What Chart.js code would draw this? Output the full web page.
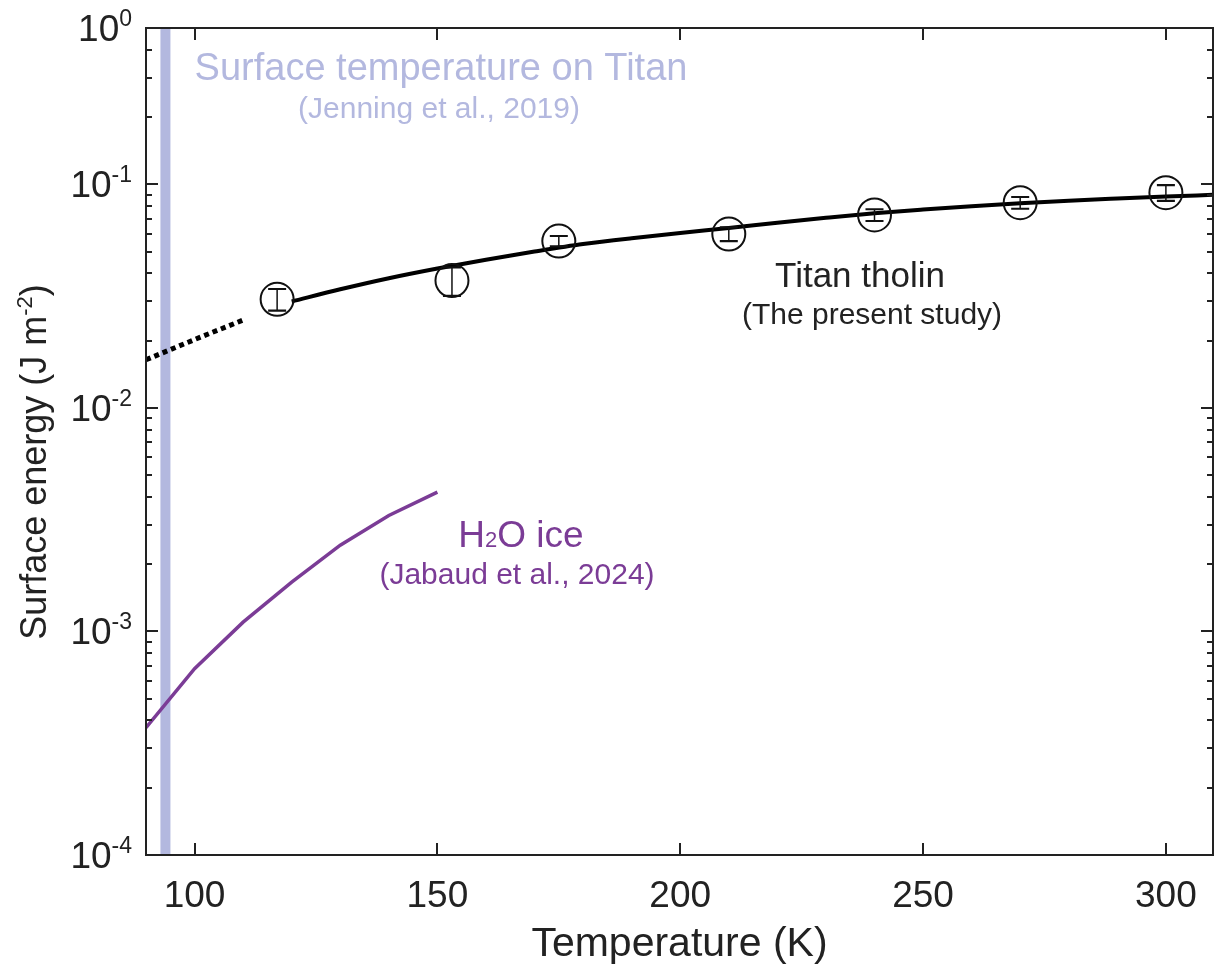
<!DOCTYPE html>
<html>
<head>
<meta charset="utf-8">
<script src="https://cdn.jsdelivr.net/npm/chart.js@4.4.0/dist/chart.umd.min.js"></script>
<style>
  html, body { margin: 0; padding: 0; background: #fff; overflow: hidden; }
  #surfaceChart { display: block; }
</style>
</head>
<body>
<canvas id="surfaceChart" width="1215" height="970"></canvas>
<script>
// tholin measurements: temperature (K), surface energy (J m-2), error
const tholinT = [117, 153, 175, 210, 240, 270, 300];
const tholinE = [0.0306, 0.0371, 0.0557, 0.0599, 0.0729, 0.0827, 0.0917];
const tholinErr = [0.0034, 0.0054, 0.0030, 0.0042, 0.0044, 0.0050, 0.0075];

// fitted curve over the measured range
const fitT = [120, 130, 140, 150, 160, 170, 180, 190, 200, 210, 220, 230, 240, 250, 260, 270, 280, 290, 300, 310];
const fitE = [0.0299, 0.0339, 0.0380, 0.0420, 0.0460, 0.0500, 0.0540, 0.0574, 0.0606, 0.0637, 0.0673, 0.0708, 0.0742, 0.0771, 0.0798, 0.0822, 0.0844, 0.0863, 0.0881, 0.0898];

// extrapolation of the fit down to Titan temperatures
const extrapT = [90, 100, 110];
const extrapE = [0.0164, 0.0202, 0.0247];

// H2O ice (Jabaud et al., 2024)
const iceT = [90, 100, 110, 120, 130, 140, 150];
const iceE = [0.000371, 0.000681, 0.00110, 0.00166, 0.00243, 0.00330, 0.00420];

// Titan surface temperature
const titanSurfaceT = 94;

// axis ticks
const xTicks = [100, 150, 200, 250, 300];
const yTicks = [1e-4, 1e-3, 1e-2, 1e-1, 0.5];
const yTickExp = ["-4", "-3", "-2", "-1", "0"];

const FONT = '"Liberation Sans", Arial, Helvetica, sans-serif';
const INK = "#222";
const BAND = "#b3b8df";
const PURPLE = "#7b3c96";

const toXY = (xs, ys) => xs.map((v, i) => ({ x: v, y: ys[i] }));

// text with a raised or lowered small part, e.g. 10^-1 or H2O
function drawRich(ctx, parts, x, y, align) {
  let total = 0;
  parts.forEach((p) => {
    ctx.font = p.size + "px " + FONT;
    p.w = ctx.measureText(p.text).width;
    total += p.w;
  });
  let cx = align === "center" ? x - total / 2 : align === "right" ? x - total : x;
  parts.forEach((p) => {
    ctx.font = p.size + "px " + FONT;
    ctx.textAlign = "left";
    ctx.fillText(p.text, cx, y - (p.rise || 0));
    cx += p.w;
  });
}

const frameAndLabels = {
  id: "frameAndLabels",
  afterDatasetsDraw(chart) {
    const { ctx, chartArea: a, scales: { x, y } } = chart;
    ctx.save();

    // error bars inside the circles
    ctx.strokeStyle = "#111";
    tholinT.forEach((t, i) => {
      const px = x.getPixelForValue(t);
      const top = y.getPixelForValue(tholinE[i] + tholinErr[i]);
      const bot = y.getPixelForValue(tholinE[i] - tholinErr[i]);
      ctx.lineWidth = 1.5;
      ctx.beginPath();
      ctx.moveTo(px, top);
      ctx.lineTo(px, bot);
      ctx.stroke();
      ctx.lineWidth = 2.2;
      ctx.beginPath();
      ctx.moveTo(px - 9, top);
      ctx.lineTo(px + 9, top);
      ctx.moveTo(px - 9, bot);
      ctx.lineTo(px + 9, bot);
      ctx.stroke();
    });

    // box
    ctx.strokeStyle = INK;
    ctx.lineWidth = 2;
    ctx.strokeRect(a.left, a.top, a.right - a.left, a.bottom - a.top);

    // x ticks, bottom and top, pointing inwards
    ctx.beginPath();
    xTicks.forEach((t) => {
      const px = Math.round(x.getPixelForValue(t));
      ctx.moveTo(px, a.bottom);
      ctx.lineTo(px, a.bottom - 12);
      ctx.moveTo(px, a.top);
      ctx.lineTo(px, a.top + 12);
    });
    // y ticks, left and right, decades plus minor ticks
    for (let d = -4; d <= -1; d++) {
      for (let m = 1; m <= 9; m++) {
        const v = m * Math.pow(10, d);
        if (v > y.max) break;
        const py = Math.round(y.getPixelForValue(v));
        const len = m === 1 ? 12 : 6;
        ctx.moveTo(a.left, py);
        ctx.lineTo(a.left + len, py);
        ctx.moveTo(a.right, py);
        ctx.lineTo(a.right - len, py);
      }
    }
    ctx.stroke();

    ctx.fillStyle = INK;
    ctx.textBaseline = "alphabetic";

    // x tick labels
    ctx.font = "37px " + FONT;
    ctx.textAlign = "center";
    xTicks.forEach((t) => {
      ctx.fillText(String(t), x.getPixelForValue(t), 907);
    });

    // y tick labels as powers of ten
    yTicks.forEach((v, i) => {
      const py = y.getPixelForValue(v);
      drawRich(ctx, [
        { text: "10", size: 37 },
        { text: yTickExp[i], size: 23, rise: 15 },
      ], 132, py + 13, "right");
    });

    // axis titles
    ctx.font = "41px " + FONT;
    ctx.textAlign = "center";
    ctx.fillText("Temperature (K)", (a.left + a.right) / 2, 956);

    ctx.save();
    ctx.translate(46, 462);
    ctx.rotate(-Math.PI / 2);
    drawRich(ctx, [
      { text: "Surface energy (J m", size: 36 },
      { text: "-2", size: 22, rise: 14 },
      { text: ")", size: 36 },
    ], 0, 0, "center");
    ctx.restore();

    // annotations
    ctx.textAlign = "center";
    ctx.fillStyle = BAND;
    ctx.font = "38px " + FONT;
    ctx.fillText("Surface temperature on Titan", 441, 80);
    ctx.font = "30px " + FONT;
    ctx.fillText("(Jenning et al., 2019)", 439, 118);

    ctx.fillStyle = INK;
    ctx.font = "35px " + FONT;
    ctx.fillText("Titan tholin", 860, 287);
    ctx.font = "30px " + FONT;
    ctx.fillText("(The present study)", 872, 324);

    ctx.fillStyle = PURPLE;
    drawRich(ctx, [
      { text: "H", size: 37 },
      { text: "2", size: 22 },
      { text: "O ice", size: 37 },
    ], 521, 547, "center");
    ctx.textAlign = "center";
    ctx.font = "30px " + FONT;
    ctx.fillText("(Jabaud et al., 2024)", 517, 584);

    ctx.restore();
  },
};

const ctx = document.getElementById("surfaceChart");

new Chart(ctx, {
  type: "scatter",
  data: {
    datasets: [
      {
        label: "Titan tholin",
        data: toXY(tholinT, tholinE),
        pointStyle: "circle",
        pointRadius: 16.5,
        pointHoverRadius: 16.5,
        borderColor: "#111",
        borderWidth: 2,
        backgroundColor: "rgba(0,0,0,0)",
        showLine: false,
      },
      {
        label: "fit",
        data: toXY(fitT, fitE),
        showLine: true,
        borderColor: "#000",
        borderWidth: 4,
        pointRadius: 0,
        cubicInterpolationMode: "monotone",
      },
      {
        label: "extrapolation",
        data: toXY(extrapT, extrapE),
        showLine: true,
        borderColor: "#000",
        borderWidth: 5,
        borderDash: [5, 4],
        pointRadius: 0,
        cubicInterpolationMode: "monotone",
      },
      {
        label: "H2O ice",
        data: toXY(iceT, iceE),
        showLine: true,
        borderColor: PURPLE,
        borderWidth: 3.5,
        pointRadius: 0,
        tension: 0,
      },
      {
        label: "Titan surface",
        data: [{ x: titanSurfaceT, y: yTicks[0] }, { x: titanSurfaceT, y: yTicks[yTicks.length - 1] }],
        showLine: true,
        borderColor: BAND,
        borderWidth: 10,
        pointRadius: 0,
      },
    ],
  },
  options: {
    responsive: false,
    animation: false,
    events: [],
    layout: { autoPadding: false, padding: { top: 28, right: 2, left: 0, bottom: 0 } },
    plugins: {
      legend: { display: false },
      tooltip: { enabled: false },
    },
    scales: {
      x: {
        type: "linear",
        min: 90,
        max: 309.7,
        grid: { display: false, drawTicks: false },
        border: { display: false },
        ticks: { display: false },
        afterFit: (scale) => { scale.height = 115; },
      },
      y: {
        type: "logarithmic",
        min: 1e-4,
        max: 0.5,
        grid: { display: false, drawTicks: false },
        border: { display: false },
        ticks: { display: false },
        afterFit: (scale) => { scale.width = 146; },
      },
    },
  },
  plugins: [frameAndLabels],
});
</script>
</body>
</html>
